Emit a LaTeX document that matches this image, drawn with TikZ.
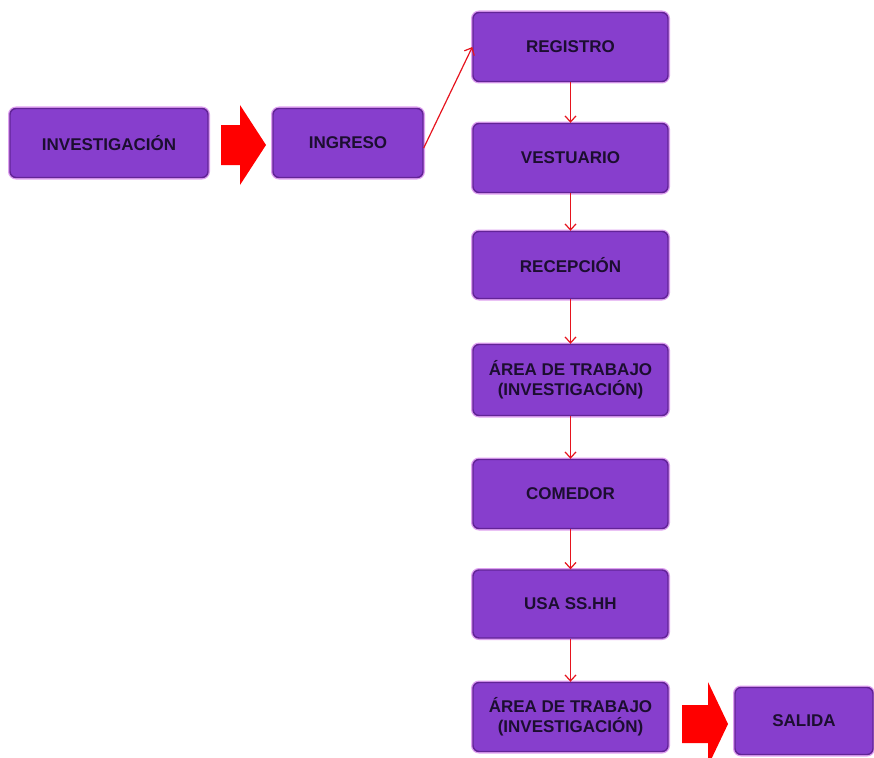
\documentclass[tikz,border=0pt]{standalone}
\usepackage{fontspec}
\setmainfont{Liberation Sans}
\usetikzlibrary{arrows.meta}
\definecolor{boxfill}{RGB}{135,62,205}
\definecolor{boxedge}{RGB}{98,36,150}
\definecolor{boxglow}{RGB}{222,160,240}
\definecolor{boxtext}{RGB}{28,14,48}
\definecolor{bigred}{RGB}{255,0,0}
\definecolor{connred}{RGB}{230,20,30}
\tikzset{
  stepbox/.style={draw=boxedge, line width=1.4pt, fill=boxfill, rounded corners=6pt,
    preaction={draw=boxglow, line width=4pt},
    text=boxtext, font=\bfseries\fontsize{17}{20}\selectfont, align=center,
    minimum width=195pt, minimum height=69pt, inner sep=2pt},
  conn/.style={draw=connred, line width=1.2pt, -{Straight Barb[length=6pt,width=11pt]}},
  bigarrow/.style={fill=bigred, draw=none}
}
\begin{document}
\begin{tikzpicture}[x=1pt,y=-1pt]
\useasboundingbox (0,0) rectangle (874,757);
\node[stepbox, minimum width=198pt] (inv) at (109,143) {INVESTIGACIÓN};
\node[stepbox, minimum width=150pt] (ing) at (348,143) {INGRESO};
\node[stepbox] (reg) at (570.5,47) {REGISTRO};
\node[stepbox] (ves) at (570.5,158) {VESTUARIO};
\node[stepbox, minimum height=67pt] (rec) at (570.5,265) {RECEPCIÓN};
\node[stepbox, minimum height=71pt] (at1) at (570.5,380) {ÁREA DE TRABAJO\\(INVESTIGACIÓN)};
\node[stepbox] (com) at (570.5,494) {COMEDOR};
\node[stepbox, minimum height=68pt] (usa) at (570.5,604) {USA SS.HH};
\node[stepbox] (at2) at (570.5,717) {ÁREA DE TRABAJO\\(INVESTIGACIÓN)};
\node[stepbox, minimum width=138pt, minimum height=67pt] (sal) at (804,721) {SALIDA};
% big arrows
\coordinate (a1) at (221,145);
\fill[bigarrow] (a1) ++(0,-20) -- ++(19,0) -- ++(0,-20) -- ++(26,40) -- ++(-26,40) -- ++(0,-20) -- ++(-19,0) -- cycle;
\coordinate (a2) at (682,724);
\fill[bigarrow] (a2) ++(0,-19) -- ++(26,0) -- ++(0,-23) -- ++(20,42) -- ++(-20,42) -- ++(0,-23) -- ++(-26,0) -- cycle;
% thin connectors
\draw[conn] (ing.east) ++(0,5) -- (reg.west);
\draw[conn] (reg.south) -- (ves.north);
\draw[conn] (ves.south) -- (rec.north);
\draw[conn] (rec.south) -- (at1.north);
\draw[conn] (at1.south) -- (com.north);
\draw[conn] (com.south) -- (usa.north);
\draw[conn] (usa.south) -- (at2.north);
\end{tikzpicture}
\end{document}
